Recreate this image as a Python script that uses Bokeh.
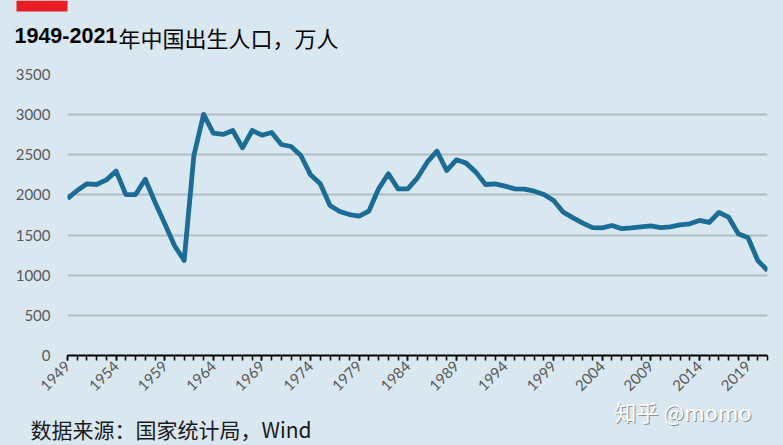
import math
from bokeh.plotting import figure
from bokeh.layouts import column
from bokeh.models import FixedTicker, Label, BoxAnnotation, ColumnDataSource, Range1d
from bokeh.embed import file_html
from bokeh.resources import INLINE

years = list(range(1949, 2022))
births = [1955, 2055, 2138, 2130, 2188, 2296, 2005, 2005, 2196, 1910,
          1644, 1370, 1183, 2491, 3003, 2769, 2753, 2803, 2587, 2803,
          2744, 2778, 2628, 2603, 2491, 2250, 2138, 1868, 1794, 1756,
          1735, 1798, 2076, 2263, 2076, 2076, 2213, 2408, 2545, 2304,
          2437, 2396, 2284, 2130, 2138, 2109, 2076, 2072, 2047, 2005,
          1930, 1785, 1715, 1648, 1592, 1590, 1619, 1580, 1590, 1603,
          1615, 1592, 1603, 1628, 1640, 1682, 1657, 1781, 1723, 1516,
          1466, 1183, 1059]
label_years = list(range(1949, 2022, 5))
y_ticks = [0, 500, 1000, 1500, 2000, 2500, 3000, 3500]

title_num = "1949-2021"
title_cjk = "年中国出生人口，万人"
source_text = "数据来源：国家统计局，Wind"
watermark = "知乎 @momo"

BG = "#d9e8f0"
W = 783


def blank_fig(h, y0, transparent=False):
    f = figure(width=W, height=h, x_range=Range1d(0, W), y_range=Range1d(y0 + h, y0),
               output_backend="svg", toolbar_location=None,
               x_axis_location=None, y_axis_location=None,
               min_border=0, frame_align=False)
    f.background_fill_color = BG
    f.border_fill_color = BG
    if transparent:
        f.background_fill_alpha = 0
        f.border_fill_alpha = 0
    f.outline_line_color = None
    f.xgrid.visible = False
    f.ygrid.visible = False
    return f


# header
head = blank_fig(60, 0)
head.add_layout(BoxAnnotation(left=16, right=67, top=0, bottom=11,
                              fill_color="#ec1c24", fill_alpha=1, line_color=None))
head.add_layout(Label(x=14, y=35, text=title_num, text_font="Liberation Sans",
                      text_font_style="bold", text_font_size="21.5px",
                      text_color="black", text_baseline="alphabetic"))
head.add_layout(Label(x=118, y=36, text=title_cjk, text_font="Noto Sans CJK SC",
                      text_font_size="22px", text_color="black",
                      text_baseline="alphabetic"))

# main chart
p = figure(width=W, height=340, x_range=(1949, 2021), y_range=(0, 3500),
           output_backend="svg", toolbar_location=None,
           min_border_left=67, min_border_right=16, min_border_top=14,
           min_border_bottom=45, frame_align=False)
p.background_fill_color = BG
p.border_fill_color = BG
p.outline_line_color = None

src = ColumnDataSource(dict(year=years, births=births))
p.line("year", "births", source=src, line_color="#1b6d98", line_width=4.8,
       line_join="round")

p.xgrid.grid_line_color = None
p.ygrid.grid_line_color = "#b3bcc2"
p.ygrid.grid_line_width = 2
p.ygrid.ticker = FixedTicker(ticks=y_ticks)

xa = p.xaxis[0]
xa.ticker = FixedTicker(ticks=label_years, minor_ticks=years)
xa.axis_line_color = "black"
xa.axis_line_width = 2
xa.major_tick_line_color = "black"
xa.minor_tick_line_color = "black"
xa.major_tick_in = 0
xa.minor_tick_in = 0
xa.major_tick_out = 5
xa.minor_tick_out = 5
xa.major_tick_line_width = 1.5
xa.minor_tick_line_width = 1.5
xa.major_label_orientation = math.pi / 4
xa.major_label_text_color = "#595959"
xa.major_label_text_font = "Lato"
xa.major_label_text_font_size = "15px"
xa.major_label_standoff = 3

ya = p.yaxis[0]
ya.ticker = FixedTicker(ticks=y_ticks)
ya.axis_line_color = None
ya.major_tick_line_color = None
ya.minor_tick_line_color = None
ya.major_label_text_color = "#595959"
ya.major_label_text_font = "Lato"
ya.major_label_text_font_size = "15px"
ya.major_label_standoff = 11

# footer (overlaps the bottom of the chart a little, transparent)
foot = blank_fig(55, 390, transparent=True)
foot.margin = (-10, 0, 0, 0)
foot.add_layout(Label(x=30, y=428, text=source_text, text_font="Noto Sans CJK SC",
                      text_font_size="21px", text_color="#1a1a1a",
                      text_baseline="alphabetic"))
foot.add_layout(Label(x=615, y=411, text=watermark, text_font="Noto Sans CJK SC",
                      text_font_size="22px", text_color="#8a9298",
                      text_baseline="alphabetic"))
foot.add_layout(Label(x=614, y=410, text=watermark, text_font="Noto Sans CJK SC",
                      text_font_size="22px", text_color="white",
                      text_baseline="alphabetic"))

layout = column(head, p, foot, spacing=0, styles={"background-color": BG})
open("out.html", "w").write(file_html(layout, INLINE))
